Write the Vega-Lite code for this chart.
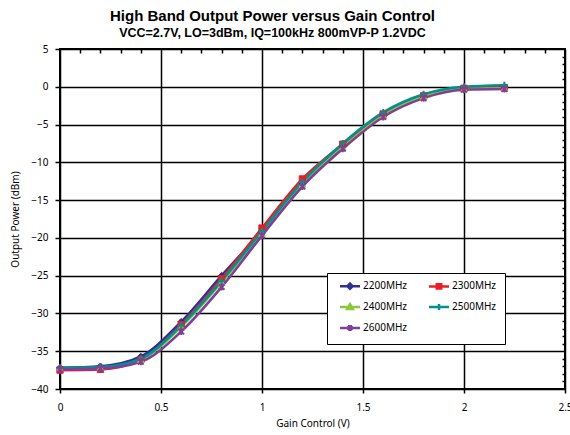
{
  "$schema": "https://vega.github.io/schema/vega-lite/v6.json",
  "width": 505,
  "height": 340,
  "autosize": {"type": "none"},
  "padding": {"left": 60, "top": 49, "right": 5, "bottom": 46},
  "background": "white",
  "title": {
    "text": "High Band Output Power versus Gain Control",
    "subtitle": "VCC=2.7V, LO=3dBm, IQ=100kHz 800mVP-P 1.2VDC",
    "anchor": "middle",
    "frame": "group",
    "dx": -40,
    "offset": 5,
    "font": "Liberation Sans",
    "fontSize": 15,
    "fontWeight": "bold",
    "color": "black",
    "subtitleFont": "Liberation Sans",
    "subtitleFontSize": 12.5,
    "subtitleFontWeight": "bold",
    "subtitleColor": "black",
    "subtitlePadding": 3
  },
  "config": {
    "view": {"stroke": "black", "strokeWidth": 2},
    "axis": {
      "labelFont": "Noto Sans",
      "labelFontSize": 10,
      "labelColor": "black",
      "titleFont": "Noto Sans",
      "titleFontSize": 10,
      "titleFontWeight": "normal",
      "titleColor": "black",
      "domain": false,
      "tickColor": "black",
      "tickWidth": 1.5
    }
  },
  "data": {
    "values": [
      {"series": "2200MHz", "x": 0.0, "y": -37.2},
      {"series": "2200MHz", "x": 0.2, "y": -37.0},
      {"series": "2200MHz", "x": 0.4, "y": -35.7},
      {"series": "2200MHz", "x": 0.6, "y": -31.1},
      {"series": "2200MHz", "x": 0.8, "y": -25.0},
      {"series": "2200MHz", "x": 1.0, "y": -19.1},
      {"series": "2200MHz", "x": 1.2, "y": -12.7},
      {"series": "2200MHz", "x": 1.4, "y": -7.8},
      {"series": "2200MHz", "x": 1.6, "y": -3.6},
      {"series": "2200MHz", "x": 1.8, "y": -1.2},
      {"series": "2200MHz", "x": 2.0, "y": -0.2},
      {"series": "2200MHz", "x": 2.2, "y": 0.0},
      {"series": "2300MHz", "x": 0.0, "y": -37.5},
      {"series": "2300MHz", "x": 0.2, "y": -37.4},
      {"series": "2300MHz", "x": 0.4, "y": -36.1},
      {"series": "2300MHz", "x": 0.6, "y": -31.5},
      {"series": "2300MHz", "x": 0.8, "y": -25.4},
      {"series": "2300MHz", "x": 1.0, "y": -18.7},
      {"series": "2300MHz", "x": 1.2, "y": -12.2},
      {"series": "2300MHz", "x": 1.4, "y": -7.6},
      {"series": "2300MHz", "x": 1.6, "y": -3.6},
      {"series": "2300MHz", "x": 1.8, "y": -1.2},
      {"series": "2300MHz", "x": 2.0, "y": -0.2},
      {"series": "2300MHz", "x": 2.2, "y": -0.1},
      {"series": "2400MHz", "x": 0.0, "y": -37.3},
      {"series": "2400MHz", "x": 0.2, "y": -37.2},
      {"series": "2400MHz", "x": 0.4, "y": -36.1},
      {"series": "2400MHz", "x": 0.6, "y": -31.8},
      {"series": "2400MHz", "x": 0.8, "y": -25.9},
      {"series": "2400MHz", "x": 1.0, "y": -19.4},
      {"series": "2400MHz", "x": 1.2, "y": -12.9},
      {"series": "2400MHz", "x": 1.4, "y": -8.0},
      {"series": "2400MHz", "x": 1.6, "y": -3.8},
      {"series": "2400MHz", "x": 1.8, "y": -1.3},
      {"series": "2400MHz", "x": 2.0, "y": -0.3},
      {"series": "2400MHz", "x": 2.2, "y": -0.2},
      {"series": "2500MHz", "x": 0.0, "y": -37.2},
      {"series": "2500MHz", "x": 0.2, "y": -37.1},
      {"series": "2500MHz", "x": 0.4, "y": -36.0},
      {"series": "2500MHz", "x": 0.6, "y": -31.6},
      {"series": "2500MHz", "x": 0.8, "y": -25.7},
      {"series": "2500MHz", "x": 1.0, "y": -19.1},
      {"series": "2500MHz", "x": 1.2, "y": -12.6},
      {"series": "2500MHz", "x": 1.4, "y": -7.5},
      {"series": "2500MHz", "x": 1.6, "y": -3.4},
      {"series": "2500MHz", "x": 1.8, "y": -1.0},
      {"series": "2500MHz", "x": 2.0, "y": 0.0},
      {"series": "2500MHz", "x": 2.2, "y": 0.2},
      {"series": "2600MHz", "x": 0.0, "y": -37.4},
      {"series": "2600MHz", "x": 0.2, "y": -37.3},
      {"series": "2600MHz", "x": 0.4, "y": -36.4},
      {"series": "2600MHz", "x": 0.6, "y": -32.4},
      {"series": "2600MHz", "x": 0.8, "y": -26.5},
      {"series": "2600MHz", "x": 1.0, "y": -19.7},
      {"series": "2600MHz", "x": 1.2, "y": -13.2},
      {"series": "2600MHz", "x": 1.4, "y": -8.2},
      {"series": "2600MHz", "x": 1.6, "y": -4.0},
      {"series": "2600MHz", "x": 1.8, "y": -1.5},
      {"series": "2600MHz", "x": 2.0, "y": -0.4},
      {"series": "2600MHz", "x": 2.2, "y": -0.3}
    ]
  },
  "resolve": {"axis": {"x": "independent", "y": "independent"}},
  "layer": [
    {
      "mark": {"type": "line", "interpolate": "monotone", "strokeWidth": 2.6},
      "encoding": {
        "x": {
          "field": "x", "type": "quantitative",
          "scale": {"domain": [0, 2.5], "nice": false},
          "axis": {
            "values": [0, 0.5, 1, 1.5, 2, 2.5],
            "format": "~g",
            "title": "Gain Control (V)",
            "grid": true, "gridColor": "black", "gridWidth": 1.5, "gridOpacity": 1,
            "tickSize": 4, "labelPadding": 9, "titlePadding": 6,
            "labelFlush": false, "labelOverlap": false
          }
        },
        "y": {
          "field": "y", "type": "quantitative",
          "scale": {"domain": [-40, 5], "nice": false},
          "axis": {
            "values": [-40, -35, -30, -25, -20, -15, -10, -5, 0, 5],
            "title": "Output Power (dBm)",
            "grid": true, "gridColor": "black", "gridWidth": 1.5, "gridOpacity": 1,
            "tickSize": 5, "labelPadding": 7, "titlePadding": 10,
            "labelFlush": false, "labelOverlap": false
          }
        },
        "color": {
          "field": "series", "type": "nominal",
          "scale": {
            "domain": ["2200MHz", "2300MHz", "2400MHz", "2500MHz", "2600MHz"],
            "range": ["#2E3192", "#ED1C24", "#8DC63F", "#00918F", "#7F3F98"]
          },
          "legend": {
            "orient": "none",
            "legendX": 267,
            "legendY": 224,
            "title": null,
            "columns": 2,
            "direction": "horizontal",
            "strokeColor": "black",
            "fillColor": "white",
            "padding": 8,
            "columnPadding": 16,
            "rowPadding": 5,
            "labelFont": "Noto Sans",
            "labelFontSize": 10,
            "labelColor": "black",
            "symbolSize": 16,
            "symbolType": "M-5,0H5M0,-1.2L1.2,0L0,1.2L-1.2,0Z",
            "labelOffset": 8,
            "symbolOffset": 10,
            "encode": {
              "symbols": {
                "update": {
                  "shape": {"signal": "datum.value == '2200MHz' ? 'M-5,0H5M0,-1.3L1.3,0L0,1.3L-1.3,0Z' : datum.value == '2300MHz' ? 'M-5,0H5M-1.1,-1.1H1.1V1.1H-1.1Z' : datum.value == '2400MHz' ? 'M-5,0H5M0,-1.4L1.4,1H-1.4Z' : datum.value == '2500MHz' ? 'M-5,0H5M0,-1.5V1.5' : 'M-5,0H5M-1.1,-1.1L1.1,1.1M-1.1,1.1L1.1,-1.1M0,-1.5V1.5'"},
                  "fill": {"scale": "color", "field": "value"},
                  "stroke": {"scale": "color", "field": "value"},
                  "strokeWidth": {"value": 2.5},
                  "opacity": {"value": 1},
                  "fillOpacity": {"value": 1}
                }
              }
            }
          }
        },
        "order": {"field": "x", "type": "quantitative"}
      }
    },
    {
      "transform": [{"filter": "datum.series == '2200MHz'"}],
      "mark": {"type": "point", "shape": "diamond", "filled": true, "size": 45, "fill": "#2E3192", "stroke": "#2E3192", "strokeWidth": 1, "opacity": 1},
      "encoding": {
        "x": {
          "field": "x", "type": "quantitative",
          "axis": {
            "values": [0.1, 0.2, 0.3, 0.4, 0.6, 0.7, 0.8, 0.9, 1.1, 1.2, 1.3, 1.4, 1.6, 1.7, 1.8, 1.9, 2.1, 2.2, 2.3, 2.4],
            "labels": false, "grid": false, "title": null, "tickSize": -4, "domain": false
          }
        },
        "y": {
          "field": "y", "type": "quantitative",
          "axis": {
            "values": [-39, -38, -37, -36, -34, -33, -32, -31, -29, -28, -27, -26, -24, -23, -22, -21, -19, -18, -17, -16, -14, -13, -12, -11, -9, -8, -7, -6, -4, -3, -2, -1, 1, 2, 3, 4],
            "labels": false, "grid": false, "title": null, "tickSize": -3, "domain": false
          }
        }
      }
    },
    {
      "transform": [{"filter": "datum.series == '2300MHz'"}],
      "mark": {"type": "point", "shape": "square", "filled": true, "size": 40, "fill": "#ED1C24", "stroke": "#ED1C24", "strokeWidth": 1, "opacity": 1},
      "encoding": {
        "x": {"field": "x", "type": "quantitative", "axis": null},
        "y": {"field": "y", "type": "quantitative", "axis": null}
      }
    },
    {
      "transform": [{"filter": "datum.series == '2400MHz'"}],
      "mark": {"type": "point", "shape": "triangle-up", "filled": true, "size": 45, "fill": "#8DC63F", "stroke": "#8DC63F", "strokeWidth": 1, "opacity": 1},
      "encoding": {
        "x": {"field": "x", "type": "quantitative", "axis": null},
        "y": {"field": "y", "type": "quantitative", "axis": null}
      }
    },
    {
      "transform": [{"filter": "datum.series == '2500MHz'"}],
      "mark": {"type": "point", "shape": "M-1,0H1M0,-1V1", "filled": true, "size": 50, "fill": "#00918F", "stroke": "#00918F", "strokeWidth": 2, "opacity": 1},
      "encoding": {
        "x": {"field": "x", "type": "quantitative", "axis": null},
        "y": {"field": "y", "type": "quantitative", "axis": null}
      }
    },
    {
      "transform": [{"filter": "datum.series == '2600MHz'"}],
      "mark": {"type": "point", "shape": "M-0.8,-0.8L0.8,0.8M-0.8,0.8L0.8,-0.8M0,-1V1", "filled": true, "size": 50, "fill": "#7F3F98", "stroke": "#7F3F98", "strokeWidth": 2, "opacity": 1},
      "encoding": {
        "x": {"field": "x", "type": "quantitative", "axis": null},
        "y": {"field": "y", "type": "quantitative", "axis": null}
      }
    }
  ]
}
